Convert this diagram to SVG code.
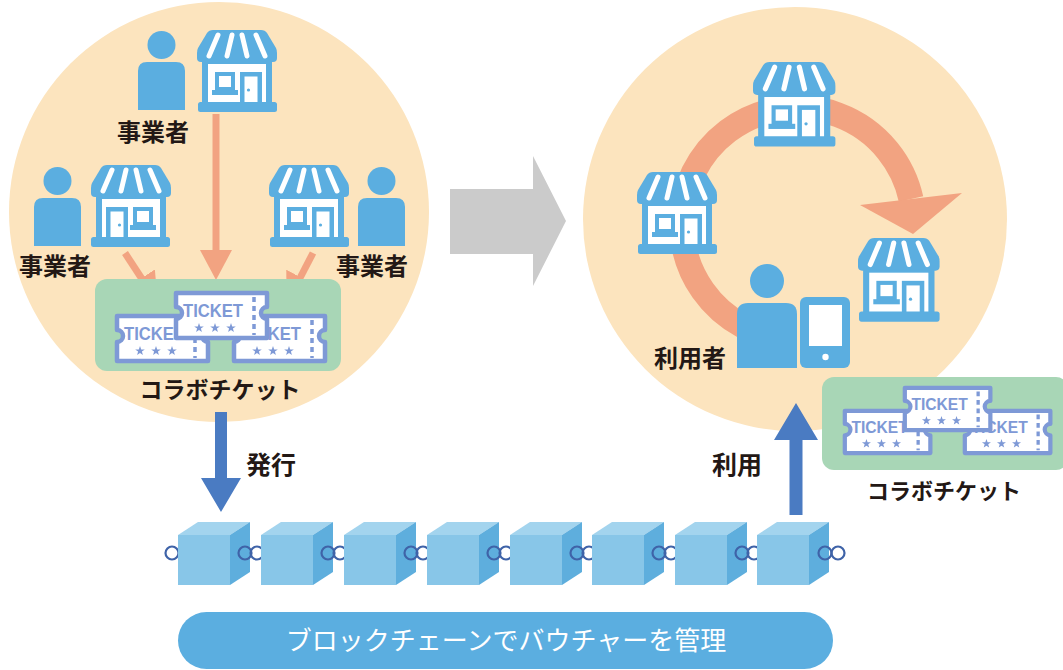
<svg xmlns="http://www.w3.org/2000/svg" xmlns:xlink="http://www.w3.org/1999/xlink" width="1063" height="670" viewBox="0 0 1063 670">
  <style>
    .ic { fill: #5BAEE0; }
    .wh { fill: #ffffff; }
    .bg { fill: #FCE4BE; }
    .box { fill: #A8D6B6; }
    .jp { font-family: "Noto Sans CJK JP", "Noto Sans", sans-serif; font-weight: bold; fill: #231815; }
    .tk { font-family: "Liberation Sans", Arial, sans-serif; font-weight: bold; fill: #7E99D6; }
    .salmon { stroke: #F2A381; fill: none; }
    .ring { fill: none; stroke: #3F63A8; stroke-width: 2.2; }
  </style>
  <defs>
    <!-- shop front: awning, body with window and door, base -->
    <g id="store">
      <path class="ic" d="M16 0H64Q68 0 70 3L79 18Q80 20 80 23V28Q80 32 76 32H4Q0 32 0 28V23Q0 20 1 18L10 3Q12 0 16 0Z"/>
      <path d="M21 5L12 26M35 5L30 26M45 5L50 26M59 5L68 26" stroke="#fff" stroke-width="5" stroke-linecap="round" fill="none"/>
      <rect class="ic" x="5" y="31" width="70" height="43"/>
      <rect class="wh" x="11" y="34" width="58" height="40"/>
      <rect class="ic" x="18" y="42" width="20" height="19"/>
      <rect class="wh" x="22" y="46" width="12" height="11"/>
      <rect class="ic" x="15" y="60" width="26" height="5"/>
      <rect class="ic" x="43" y="42" width="22" height="32"/>
      <rect class="wh" x="47.5" y="46.5" width="13" height="28"/>
      <circle class="ic" cx="51.5" cy="60" r="1.6"/>
      <rect class="ic" x="1" y="72" width="79" height="10" rx="2.5"/>
    </g>
    <!-- person silhouette -->
    <g id="person">
      <circle class="ic" cx="23.5" cy="14" r="14"/>
      <path class="ic" d="M0 40Q0 31 9 31H38Q47 31 47 40V79H0Z"/>
    </g>
    <!-- small star for tickets -->
    <path id="star" d="M0 -5L1.2 -1.6L4.8 -1.5L1.9 0.6L2.9 4.1L0 2.1L-2.9 4.1L-1.9 0.6L-4.8 -1.5L-1.2 -1.6Z" fill="#7E99D6"/>
    <!-- ticket -->
    <g id="ticket">
      <path d="M3 3H94V17A6 6 0 0 0 94 29V48H3V29A6 6 0 0 0 3 17Z" fill="#fff" stroke="#7E99D6" stroke-width="4.5" stroke-linejoin="round"/>
      <line x1="81" y1="7" x2="81" y2="45" stroke="#7E99D6" stroke-width="3.5" stroke-dasharray="5 4"/>
      <text class="tk" x="10" y="27" font-size="18" textLength="60" lengthAdjust="spacingAndGlyphs">TICKET</text>
      <use xlink:href="#star" x="26" y="38"/>
      <use xlink:href="#star" x="42" y="38"/>
      <use xlink:href="#star" x="58" y="38"/>
    </g>
    <!-- block of the chain -->
    <g id="cube">
      <polygon points="0,13 20,0 72,0 52,13" fill="#A3D4EE"/>
      <rect x="0" y="13" width="52" height="50" fill="#88C6E8"/>
      <polygon points="52,13 72,0 72,50 52,63" fill="#5EAEDD"/>
    </g>
    <marker id="head-salmon" viewBox="0 0 30 32" refX="1" refY="16" markerWidth="30" markerHeight="32" markerUnits="userSpaceOnUse" orient="auto">
      <path d="M0 0L30 16L0 32Z" fill="#F2A381"/>
    </marker>
  </defs>

  <rect width="1063" height="670" fill="#ffffff"/>

  <!-- background discs -->
  <circle id="circle-left" class="bg" cx="219" cy="212" r="210"/>
  <circle id="circle-right" class="bg" cx="795" cy="219" r="212"/>

  <!-- circulation loop inside right disc -->
  <g id="loop">
    <path class="salmon" stroke-width="25" d="M743 326A116 116 0 1 1 911 199"/>
    <polygon points="860,205 962,193 913,234" fill="#F2A381"/>
  </g>

  <!-- connectors -->
  <g id="connectors">
    <line class="salmon" stroke-width="7" x1="216" y1="114" x2="216" y2="251" marker-end="url(#head-salmon)"/>
    <line class="salmon" stroke-width="7" x1="125" y1="253" x2="142" y2="279" marker-end="url(#head-salmon)"/>
    <line class="salmon" stroke-width="7" x1="313" y1="253" x2="300" y2="278" marker-end="url(#head-salmon)"/>
    <polygon id="arrow-next" points="450,189 533,189 533,156 566,221 533,286 533,254 450,254" fill="#CBCBCB"/>
    <polygon id="arrow-issue" points="215,412 227,412 227,478 241,478 221,512 201,478 215,478" fill="#4A7BC2"/>
    <polygon id="arrow-use" points="789.5,515 789.5,440 774,440 796,403 818,440 802.5,440 802.5,515" fill="#4A7BC2"/>
  </g>

  <!-- operators around the issuing side -->
  <g id="operator-top">
    <use xlink:href="#person" transform="translate(138,31)"/>
    <use xlink:href="#store" transform="translate(197,30)"/>
    <text class="jp" x="153" y="141" font-size="24" text-anchor="middle">事業者</text>
  </g>
  <g id="operator-left">
    <use xlink:href="#person" transform="translate(34,167)"/>
    <use xlink:href="#store" transform="translate(171,165) scale(-1,1)"/>
    <text class="jp" x="55" y="275" font-size="24" text-anchor="middle">事業者</text>
  </g>
  <g id="operator-right">
    <use xlink:href="#store" transform="translate(269,165)"/>
    <use xlink:href="#person" transform="translate(358,167)"/>
    <text class="jp" x="372" y="275" font-size="24" text-anchor="middle">事業者</text>
  </g>

  <!-- issued collaboration tickets -->
  <g id="tickets-issued">
    <rect class="box" x="95" y="279" width="246" height="92" rx="12"/>
    <use xlink:href="#ticket" transform="translate(114,313)"/>
    <use xlink:href="#ticket" transform="translate(231,313)"/>
    <use xlink:href="#ticket" transform="translate(173,290)"/>
    <text class="jp" x="220" y="398" font-size="23" text-anchor="middle">コラボチケット</text>
  </g>

  <!-- shops on the using side -->
  <g id="shop-top"><use xlink:href="#store" transform="translate(753,62) scale(1.03)"/></g>
  <g id="shop-left"><use xlink:href="#store" transform="translate(637,172)"/></g>
  <g id="shop-right"><use xlink:href="#store" transform="translate(858,238) scale(1.02)"/></g>

  <!-- user with tablet -->
  <g id="user">
    <circle class="ic" cx="767" cy="281" r="17"/>
    <path class="ic" d="M737 314Q737 303 748 303H786Q797 303 797 314V368H737Z"/>
    <rect class="ic" x="800" y="297" width="50" height="71" rx="6"/>
    <rect class="wh" x="809" y="305" width="33" height="41"/>
    <circle class="wh" cx="825.5" cy="357" r="3.2"/>
    <text class="jp" x="690" y="367" font-size="24" text-anchor="middle">利用者</text>
  </g>

  <!-- tickets in use -->
  <g id="tickets-used">
    <rect class="box" x="822" y="377" width="246" height="93" rx="12"/>
    <use xlink:href="#ticket" transform="translate(842,408) scale(0.94)"/>
    <use xlink:href="#ticket" transform="translate(962,408) scale(0.94)"/>
    <use xlink:href="#ticket" transform="translate(902,385) scale(0.94)"/>
    <text class="jp" x="944" y="499" font-size="22" text-anchor="middle">コラボチケット</text>
  </g>

  <!-- arrow labels -->
  <g id="label-issue"><text class="jp" x="271" y="474" font-size="25" text-anchor="middle">発行</text></g>
  <g id="label-use"><text class="jp" x="737" y="474" font-size="25" text-anchor="middle">利用</text></g>

  <!-- blockchain -->
  <g id="chain">
    <circle class="ring" cx="172" cy="553" r="6.5"/>
    <use xlink:href="#cube" transform="translate(178,522)"/>
    <circle class="ring" cx="245" cy="553" r="6.5"/>
    <circle class="ring" cx="257" cy="553" r="6.5"/>
    <use xlink:href="#cube" transform="translate(261,522)"/>
    <circle class="ring" cx="328" cy="553" r="6.5"/>
    <circle class="ring" cx="340" cy="553" r="6.5"/>
    <use xlink:href="#cube" transform="translate(344,522)"/>
    <circle class="ring" cx="411" cy="553" r="6.5"/>
    <circle class="ring" cx="423" cy="553" r="6.5"/>
    <use xlink:href="#cube" transform="translate(427,522)"/>
    <circle class="ring" cx="494" cy="553" r="6.5"/>
    <circle class="ring" cx="506" cy="553" r="6.5"/>
    <use xlink:href="#cube" transform="translate(510,522)"/>
    <circle class="ring" cx="577" cy="553" r="6.5"/>
    <circle class="ring" cx="589" cy="553" r="6.5"/>
    <use xlink:href="#cube" transform="translate(592,522)"/>
    <circle class="ring" cx="659" cy="553" r="6.5"/>
    <circle class="ring" cx="671" cy="553" r="6.5"/>
    <use xlink:href="#cube" transform="translate(675,522)"/>
    <circle class="ring" cx="742" cy="553" r="6.5"/>
    <circle class="ring" cx="754" cy="553" r="6.5"/>
    <use xlink:href="#cube" transform="translate(757,522)"/>
    <circle class="ring" cx="825" cy="553" r="6.5"/>
    <circle class="ring" cx="838" cy="553" r="6.5"/>
  </g>

  <!-- caption banner -->
  <g id="banner">
    <rect x="178" y="612" width="655" height="57" rx="28.5" fill="#5BAEE0"/>
    <text x="506" y="650" font-size="26" text-anchor="middle" fill="#ffffff" font-family="Noto Sans CJK JP, Noto Sans, sans-serif">ブロックチェーンでバウチャーを管理</text>
  </g>
</svg>
